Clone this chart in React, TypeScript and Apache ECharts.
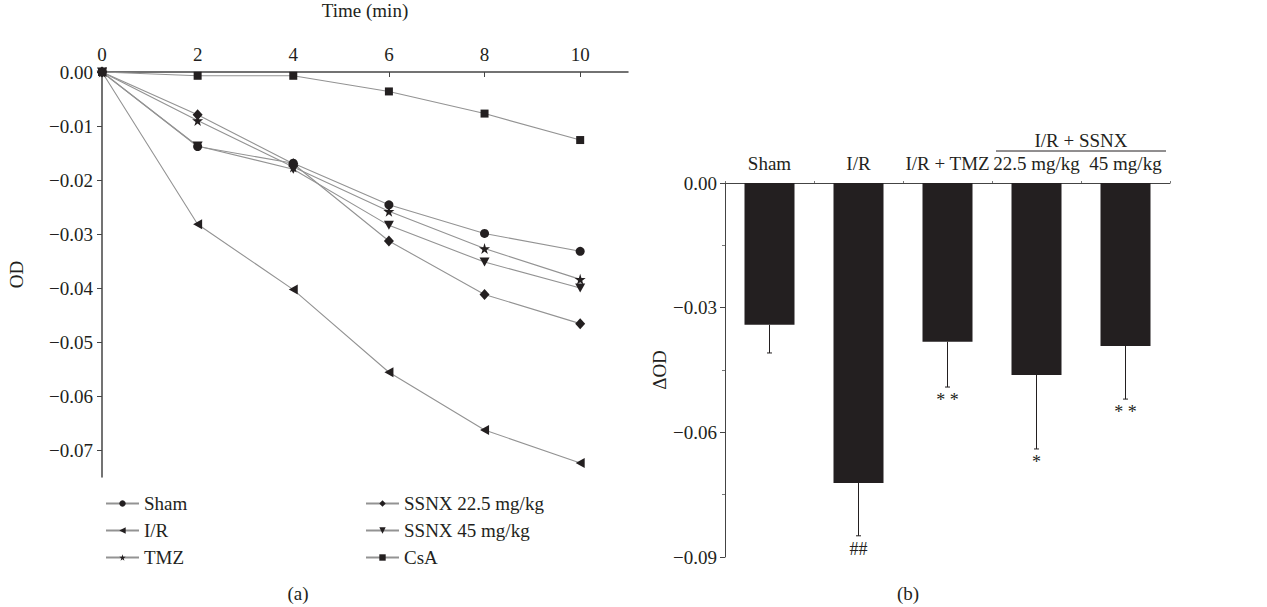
import React, { useEffect, useRef } from "react";
import * as echarts from "echarts";

// ---- Panel (a): OD time course ----
const times = [0, 2, 4, 6, 8, 10];
const timeTicks = [0, 2, 4, 6, 8, 10];
const odTicks = [0, -0.01, -0.02, -0.03, -0.04, -0.05, -0.06, -0.07];
const shamOD = [0, -0.0138, -0.0169, -0.0246, -0.0299, -0.0332];
const irOD = [0, -0.0282, -0.0403, -0.0556, -0.0663, -0.0724];
const tmzOD = [0, -0.009, -0.0176, -0.0258, -0.0327, -0.0384];
const ssnx225OD = [0, -0.0079, -0.017, -0.0313, -0.0412, -0.0466];
const ssnx45OD = [0, -0.0137, -0.018, -0.0284, -0.0352, -0.04];
const csaOD = [0, -0.0007, -0.0007, -0.0036, -0.0077, -0.0126];

// ---- Panel (b): delta OD ----
const groups = ["Sham", "I/R", "I/R + TMZ", "22.5 mg/kg", "45 mg/kg"];
const deltaOD = [-0.0341, -0.0722, -0.0382, -0.0462, -0.0392];
const deltaErr = [0.0068, 0.0127, 0.0109, 0.0178, 0.0128];
const sigMarks = ["", "##", "* *", "*", "* *"];
const groupLabel = "I/R + SSNX";

const FONT = "Liberation Serif";
const FS = 19;
const INK = "#231f20";
const LINE = "#939393";

const STAR = "path://M50,0 L61,35 L98,35 L68,57 L79,91 L50,70 L21,91 L32,57 L2,35 L39,35 Z";
const TRI_LEFT = "path://M0,50 L100,0 L100,100 Z";
const TRI_DOWN = "path://M0,0 L100,0 L50,100 Z";

const fmt = (v: number) => (Math.abs(v) < 1e-9 ? "0.00" : "\u2212" + Math.abs(v).toFixed(2));

function lineSeries(name: string, data: number[], symbol: string, size: number | number[]) {
  return {
    name,
    type: "line",
    xAxisIndex: 0,
    yAxisIndex: 0,
    data: times.map((t, i) => [t, data[i]]),
    symbol,
    symbolSize: size,
    showAllSymbol: true,
    lineStyle: { color: LINE, width: 1.1 },
    itemStyle: { color: INK },
    z: 3,
  };
}

export default function App() {
  const ref = useRef<HTMLDivElement>(null);
  useEffect(() => {
    if (!ref.current) return;
    const chart = echarts.init(ref.current, null, { renderer: "svg" });
    const txt = { fontFamily: FONT, fontSize: FS, color: INK };
    const option: any = {
      animation: false,
      grid: [
        { left: 102, top: 72, right: 639, bottom: 130, outerBoundsMode: "none", containLabel: false },
        { left: 725, top: 183, right: 97, bottom: 50, outerBoundsMode: "none", containLabel: false },
      ],
      xAxis: [
        {
          gridIndex: 0,
          type: "value",
          position: "top",
          min: 0,
          max: 11,
          name: "Time (min)",
          nameLocation: "middle",
          nameGap: 52,
          nameTextStyle: { ...txt },
          axisLine: { show: true, lineStyle: { color: "#444", width: 1.5 } },
          axisTick: { show: true, inside: true, length: 5, customValues: timeTicks, lineStyle: { color: "#444" } },
          axisLabel: { customValues: timeTicks, margin: 8, ...txt },
          splitLine: { show: false },
        },
        {
          gridIndex: 1,
          type: "category",
          position: "top",
          data: groups,
          axisLine: { show: true, lineStyle: { color: "#444", width: 1 } },
          axisTick: { show: true, length: 2, lineStyle: { color: "#777" } },
          axisLabel: { margin: 10, interval: 0, ...txt },
          splitLine: { show: false },
        },
      ],
      yAxis: [
        {
          gridIndex: 0,
          type: "value",
          min: -0.075,
          max: 0,
          name: "OD",
          nameLocation: "middle",
          nameGap: 76,
          nameTextStyle: { ...txt },
          axisLine: { show: true, lineStyle: { color: "#444", width: 1.5 } },
          axisTick: { show: true, length: 5, customValues: odTicks, lineStyle: { color: "#444" } },
          axisLabel: { customValues: odTicks, formatter: fmt, margin: 9, ...txt },
          splitLine: { show: false },
        },
        {
          gridIndex: 1,
          type: "value",
          min: -0.09,
          max: 0,
          interval: 0.03,
          name: "\u0394OD",
          nameLocation: "middle",
          nameGap: 56,
          nameTextStyle: { ...txt },
          axisLine: { show: true, lineStyle: { color: "#444", width: 1 } },
          axisTick: { show: true, length: 5, lineStyle: { color: "#444" } },
          minorTick: { show: true, splitNumber: 2, length: 3, lineStyle: { color: "#777" } },
          axisLabel: { formatter: fmt, margin: 8, ...txt },
          splitLine: { show: false },
        },
      ],
      legend: [
        {
          data: ["Sham", "I/R", "TMZ"],
          orient: "vertical",
          left: 100,
          top: 489,
          itemWidth: 33,
          itemHeight: 8,
          itemGap: 8,
          textStyle: { ...txt, lineHeight: 19 },
          selectedMode: false,
        },
        {
          data: ["SSNX 22.5 mg/kg", "SSNX 45 mg/kg", "CsA"],
          orient: "vertical",
          left: 360,
          top: 489,
          itemWidth: 33,
          itemHeight: 8,
          itemGap: 8,
          textStyle: { ...txt, lineHeight: 19 },
          selectedMode: false,
        },
      ],
      series: [
        lineSeries("Sham", shamOD, "circle", 9),
        lineSeries("I/R", irOD, TRI_LEFT, [9, 10]),
        lineSeries("TMZ", tmzOD, STAR, 11),
        lineSeries("SSNX 22.5 mg/kg", ssnx225OD, "diamond", [10, 11]),
        lineSeries("SSNX 45 mg/kg", ssnx45OD, TRI_DOWN, [10, 9]),
        lineSeries("CsA", csaOD, "rect", 8),
        {
          type: "bar",
          xAxisIndex: 1,
          yAxisIndex: 1,
          data: deltaOD,
          barWidth: 50,
          itemStyle: { color: INK },
          z: 2,
        },
        {
          type: "custom",
          xAxisIndex: 1,
          yAxisIndex: 1,
          data: groups.map((g, i) => [i, deltaOD[i], deltaErr[i]]),
          z: 4,
          renderItem: (params: any, api: any) => {
            const i = api.value(0);
            const v = api.value(1);
            const e = api.value(2);
            const p0 = api.coord([i, v]);
            const p1 = api.coord([i, v - e]);
            return {
              type: "group",
              children: [
                { type: "line", shape: { x1: p0[0], y1: p0[1], x2: p1[0], y2: p1[1] }, style: { stroke: INK, lineWidth: 1 } },
                { type: "line", shape: { x1: p1[0] - 2.5, y1: p1[1], x2: p1[0] + 2.5, y2: p1[1] }, style: { stroke: INK, lineWidth: 1 } },
                {
                  type: "text",
                  x: p1[0],
                  y: p1[1] + 4,
                  style: {
                    text: sigMarks[i],
                    textAlign: "center",
                    textVerticalAlign: "top",
                    fontFamily: FONT,
                    fontSize: 18,
                    fill: INK,
                  },
                },
              ],
            };
          },
        },
      ],
    };
    chart.setOption(option);

    const pA = chart.convertToPixel({ xAxisIndex: 1 }, groups[3]) as number;
    const pB = chart.convertToPixel({ xAxisIndex: 1 }, groups[4]) as number;
    const half = 44.5;
    chart.setOption({
      graphic: [
        {
          type: "text",
          x: (pA + pB) / 2,
          y: 140,
          style: { text: groupLabel, textAlign: "center", textVerticalAlign: "middle", fontFamily: FONT, fontSize: FS, fill: INK },
        },
        {
          type: "line",
          shape: { x1: pA - half + 4, y1: 151, x2: pB + half - 4, y2: 151 },
          style: { stroke: INK, lineWidth: 1 },
        },
        {
          type: "text",
          x: 298,
          y: 593,
          style: { text: "(a)", textAlign: "center", textVerticalAlign: "middle", fontFamily: FONT, fontSize: FS, fill: INK },
        },
        {
          type: "text",
          x: 908,
          y: 593,
          style: { text: "(b)", textAlign: "center", textVerticalAlign: "middle", fontFamily: FONT, fontSize: FS, fill: INK },
        },
      ],
    });
    return () => chart.dispose();
  }, []);
  return (
    <div
      ref={ref}
      style={{ position: "fixed", left: 0, top: 0, width: 1267, height: 607, background: "#fff" }}
    />
  );
}
